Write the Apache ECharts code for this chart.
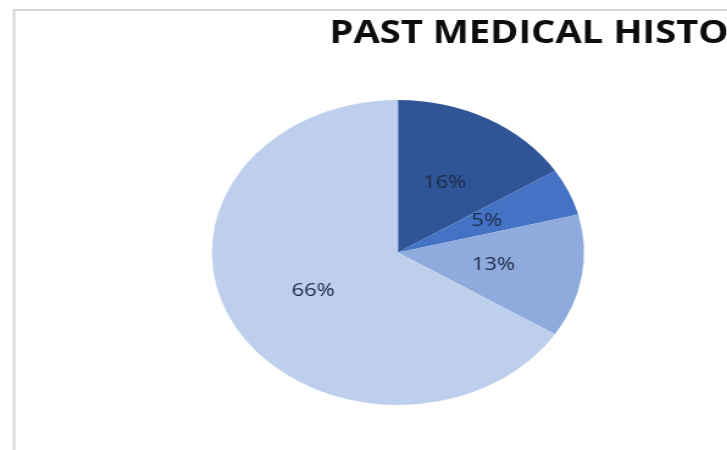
<!DOCTYPE html>
<html>
<head>
<meta charset="utf-8">
<script src="https://cdn.jsdelivr.net/npm/echarts@6/dist/echarts.min.js"></script>
<style>
  html, body { margin: 0; padding: 0; background: #ffffff; width: 727px; height: 450px; overflow: hidden; }
  #wrap { width: 727px; height: 450px; overflow: hidden; position: relative; }
  /* the chart is drawn at a narrower width and widened so the pie comes out as an ellipse */
  #chart { width: 596px; height: 450px; transform: scaleX(1.22); transform-origin: 0 0; }
</style>
</head>
<body>
<div id="wrap"><div id="chart"></div></div>
<script>
const titleText = 'PAST MEDICAL HISTO';
const categories = ['Group 1', 'Group 2', 'Group 3', 'Group 4'];
const shares = [16, 5, 13, 66];
const sliceColors = ['#2F5597', '#4472C4', '#8FAADC', '#BDCFEC'];

const chart = echarts.init(document.getElementById('chart'), null, { renderer: 'canvas' });

const pieData = categories.map((name, i) => ({
  name: name,
  value: shares[i],
  itemStyle: { color: sliceColors[i] }
}));

chart.setOption({
  animation: false,
  backgroundColor: '#ffffff',
  title: {
    text: titleText,
    left: 270,
    top: 19,
    padding: 0,
    textStyle: {
      fontFamily: 'Open Sans',
      fontWeight: 'bold',
      fontSize: 31.3,
      color: '#0d0d0d'
    }
  },
  graphic: [{
    type: 'rect',
    silent: true,
    shape: { x: 11.5, y: 10, width: 1200, height: 1200 },
    style: { fill: null, stroke: '#d6d6d6', lineWidth: 2 }
  }],
  series: [{
    type: 'pie',
    center: [326.2, 252.5],
    radius: [0, 152.5],
    startAngle: 90,
    clockwise: true,
    avoidLabelOverlap: false,
    label: {
      show: true,
      position: 'inside',
      formatter: p => p.value + '%',
      fontFamily: 'Open Sans',
      fontSize: 18,
      color: '#1f2a48'
    },
    labelLine: { show: false },
    itemStyle: { borderWidth: 0 },
    emphasis: { disabled: true },
    data: pieData
  }]
});
</script>
</body>
</html>
